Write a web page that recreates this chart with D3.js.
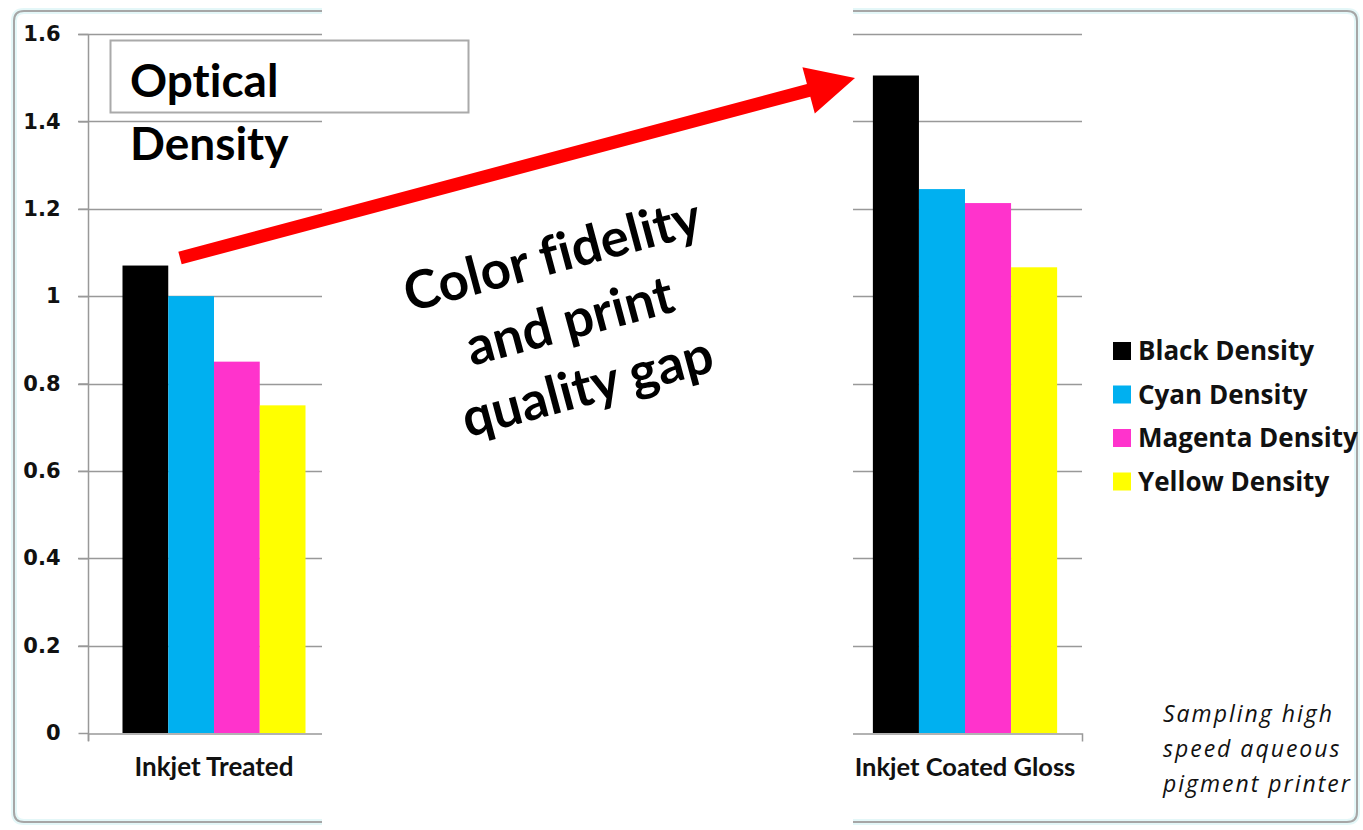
<!DOCTYPE html>
<html>
<head>
<meta charset="utf-8">
<script src="https://cdn.jsdelivr.net/npm/d3@7"></script>
<style>
  html, body { margin: 0; padding: 0; background: #fff; }
  svg { display: block; font-variant-ligatures: none; }
</style>
</head>
<body>
<svg id="chart" width="1363" height="830" font-family="Lato, 'Open Sans', sans-serif"></svg>
<script>
// ---- data ----
const categories = ["Inkjet Treated", "Inkjet Coated Gloss"];
const seriesNames = ["Black Density", "Cyan Density", "Magenta Density", "Yellow Density"];
const seriesColors = ["#000000", "#00B0F0", "#FF33CC", "#FFFF00"];
const blackDensity = [1.07, 1.505];
const cyanDensity = [1.0, 1.245];
const magentaDensity = [0.85, 1.213];
const yellowDensity = [0.75, 1.066];
const yTicks = [0, 0.2, 0.4, 0.6, 0.8, 1, 1.2, 1.4, 1.6];
const titleLines = ["Optical", "Density"];
const gapLines = ["Color fidelity", "and print", "quality gap"];
const noteLines = ["Sampling high", "speed aqueous", "pigment printer"];

const seriesValues = [blackDensity, cyanDensity, magentaDensity, yellowDensity];

const svg = d3.select("#chart");
const y = d3.scaleLinear().domain([0, 1.6]).range([733, 34]);

const defs = svg.append("defs");
defs.append("clipPath").attr("id", "clipL").append("rect")
  .attr("x", 0).attr("y", 0).attr("width", 322).attr("height", 830);
defs.append("clipPath").attr("id", "clipR").append("rect")
  .attr("x", 853).attr("y", 0).attr("width", 510).attr("height", 830);

// frames
const frameColor = "#a6a6a6";
const glow = "#e4f7f8";
const framePaths = [
  "M322,11 L24,11 Q14,11 14,21 L14,812 Q14,822 24,822 L322,822",
  "M853,11 L1347,11 Q1357,11 1357,21 L1357,812 Q1357,822 1347,822 L853,822"
];
framePaths.forEach(d => {
  svg.append("path").attr("d", d).attr("fill", "none").attr("stroke", glow).attr("stroke-width", 6);
  svg.append("path").attr("d", d).attr("fill", "none").attr("stroke", frameColor).attr("stroke-width", 2);
});

// panels: each shows one category of the same chart
const panels = [
  { cat: categories[0], range: [88, 340], pad: 0.1885, clip: "clipL", yAxis: true, fs: 26 },
  { cat: categories[1], range: [848, 1082], pad: 0.135, clip: "clipR", yAxis: false, fs: 25.5 }
];

panels.forEach((p, ci) => {
  const g = svg.append("g").attr("clip-path", `url(#${p.clip})`);
  const x = d3.scaleBand().domain([p.cat]).range(p.range).paddingOuter(p.pad).paddingInner(0);
  const xs = d3.scaleBand().domain(seriesNames).range([x(p.cat), x(p.cat) + x.bandwidth()]);

  // gridlines
  g.append("g").selectAll("line").data(yTicks.filter(t => t > 0)).join("line")
    .attr("x1", p.yAxis ? p.range[0] - 10 : 0).attr("x2", p.range[1])
    .attr("y1", d => Math.round(y(d)) + 0.5).attr("y2", d => Math.round(y(d)) + 0.5)
    .attr("stroke", "#999").attr("stroke-width", 1.5);

  // bars
  g.append("g").selectAll("rect").data(seriesNames).join("rect")
    .attr("x", d => xs(d)).attr("width", xs.bandwidth())
    .attr("y", (d, i) => y(seriesValues[i][ci]))
    .attr("height", (d, i) => y(0) - y(seriesValues[i][ci]))
    .attr("fill", (d, i) => seriesColors[i]);

  // category axis
  const xAxis = d3.axisBottom(x).tickSize(0).tickSizeOuter(8).tickPadding(0);
  const ax = g.append("g").attr("transform", `translate(0,${Math.round(y(0)) + 0.5})`).call(xAxis);
  ax.attr("font-family", "Lato, sans-serif");
  ax.select(".domain").attr("stroke", "#999").attr("stroke-width", 1.5);
  ax.selectAll("text").attr("dy", 0).attr("y", 42)
    .attr("font-size", p.fs).attr("font-weight", "bold").attr("fill", "#111");

  if (p.yAxis) {
    const yAxis = d3.axisLeft(y).tickValues(yTicks).tickSize(10).tickPadding(18)
      .tickFormat(d => d3.format("")(d));
    const ay = svg.append("g").attr("transform", `translate(${p.range[0] + 0.5},0)`).call(yAxis);
    ay.attr("font-family", "'DejaVu Sans', sans-serif");
    ay.select(".domain").attr("stroke", "#999").attr("stroke-width", 1.5)
      .attr("d", `M0,${y(1.6)}V${y(0) + 8}`);
    ay.selectAll(".tick line").attr("stroke", "#999").attr("stroke-width", 1.5);
    ay.selectAll("text").attr("font-size", 21)
      .attr("font-weight", "bold").attr("fill", "#111").attr("x", -28);
  }
});

// title box
svg.append("rect").attr("x", 110.5).attr("y", 40.5).attr("width", 358).attr("height", 72)
  .attr("fill", "#fff").attr("stroke", "#aaa").attr("stroke-width", 2);
svg.append("g").selectAll("text").data(titleLines).join("text")
  .attr("x", 130).attr("y", (d, i) => 97 + i * 63)
  .attr("font-size", 46).attr("font-weight", "bold").attr("fill", "#000").text(d => d);

// red arrow
const ax0 = 180, ay0 = 258, ax1 = 855, ay1 = 78;
const ang = Math.atan2(ay1 - ay0, ax1 - ax0);
const len = Math.hypot(ax1 - ax0, ay1 - ay0);
const headL = 48, headW = 48, shaftW = 13;
const arrow = svg.append("g").attr("transform", `translate(${ax0},${ay0}) rotate(${ang * 180 / Math.PI})`);
arrow.append("path")
  .attr("d", `M0,${-shaftW / 2} L${len - headL},${-shaftW / 2} L${len - headL},${-headW / 2} L${len},0 L${len - headL},${headW / 2} L${len - headL},${shaftW / 2} L0,${shaftW / 2} Z`)
  .attr("fill", "#FF0000");

// rotated gap text
const gt = svg.append("g").attr("transform", "translate(570,322) rotate(-15)");
gt.selectAll("text").data(gapLines).join("text")
  .attr("x", 0).attr("y", (d, i) => (i - 1) * 68 + 17)
  .attr("text-anchor", "middle").attr("font-size", 53).attr("font-weight", "bold")
  .attr("fill", "#000").text(d => d);

// legend
const lg = svg.append("g").attr("transform", "translate(1113,342)")
  .attr("font-family", "'Open Sans', sans-serif");
const li = lg.selectAll("g").data(seriesNames).join("g")
  .attr("transform", (d, i) => `translate(0,${i * 43.5})`);
li.append("rect").attr("width", 18).attr("height", 18)
  .attr("fill", (d, i) => seriesColors[i]);
li.append("text").attr("x", 25).attr("y", 18)
  .attr("font-size", 26).attr("font-weight", "bold").attr("fill", "#111").text(d => d);

// note
svg.append("g").attr("font-family", "'Open Sans', sans-serif")
  .selectAll("text").data(noteLines).join("text")
  .attr("x", 1163).attr("y", (d, i) => 722 + i * 35)
  .attr("font-size", 23).attr("font-style", "italic")
  .attr("letter-spacing", 2).attr("fill", "#111").text(d => d);
</script>
</body>
</html>
